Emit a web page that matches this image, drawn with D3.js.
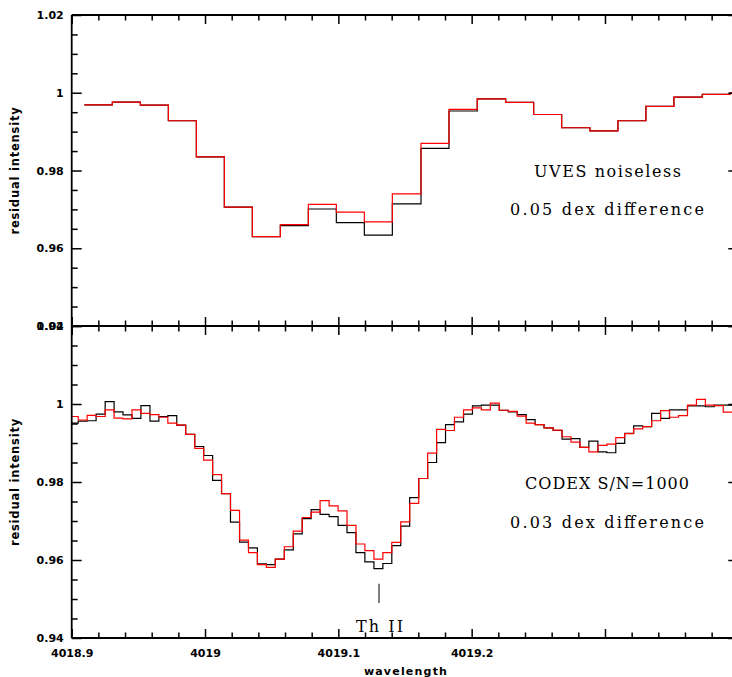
<!DOCTYPE html>
<html>
<head>
<meta charset="utf-8">
<script src="https://cdn.jsdelivr.net/npm/d3@7"></script>
<style>
html,body{margin:0;padding:0;background:#fff;}
svg{display:block;}
</style>
</head>
<body>
<script>
// ---- data ----
const topEdges = [4018.9095,4018.9305,4018.9515,4018.9725,4018.9935,4019.0145,4019.0355,4019.0565,4019.0775,4019.0985,4019.1195,4019.1405,4019.1620,4019.1830,4019.2042,4019.2255,4019.2465,4019.2675,4019.2887,4019.3097,4019.3307,4019.3517,4019.3730,4019.3940,4019.4150];
const topBlack = [0.9969,0.9976,0.9968,0.9928,0.9835,0.9706,0.9630,0.9658,0.9701,0.9666,0.9634,0.9714,0.9857,0.9953,0.9984,0.9975,0.9944,0.9910,0.9902,0.9928,0.9965,0.9989,0.9996,1.0000];
const topRed   = [0.9969,0.9976,0.9968,0.9928,0.9835,0.9706,0.9630,0.9661,0.9713,0.9693,0.9668,0.9740,0.9870,0.9957,0.9984,0.9975,0.9944,0.9910,0.9902,0.9928,0.9965,0.9989,0.9996,1.0000];

const botEdges = [4018.8982,4018.9049,4018.9116,4018.9183,4018.9251,4018.9318,4018.9385,4018.9452,4018.9519,4018.9587,
4018.9654,4018.9721,4018.9788,4018.9855,4018.9923,4018.9990,4019.0057,4019.0124,4019.0191,4019.0259,
4019.0326,4019.0393,4019.0460,4019.0527,4019.0595,4019.0662,4019.0729,4019.0796,4019.0863,4019.0931,
4019.0998,4019.1065,4019.1132,4019.1199,4019.1267,4019.1334,4019.1401,4019.1468,4019.1535,4019.1603,
4019.1670,4019.1737,4019.1804,4019.1871,4019.1939,4019.2006,4019.2073,4019.2140,4019.2207,4019.2275,
4019.2342,4019.2409,4019.2476,4019.2543,4019.2611,4019.2678,4019.2745,4019.2812,4019.2879,4019.2947,
4019.3014,4019.3081,4019.3148,4019.3215,4019.3283,4019.3350,4019.3417,4019.3484,4019.3551,4019.3619,
4019.3686,4019.3753,4019.3820,4019.3887,4019.3954];
const botBlack = [0.9951,0.9956,0.9957,0.9974,1.0006,0.9980,0.9972,0.9963,0.9996,0.9956,
0.9968,0.9970,0.9946,0.9922,0.9891,0.9868,0.9804,0.9770,0.9697,0.9646,
0.9631,0.9590,0.9588,0.9602,0.9626,0.9667,0.9706,0.9729,0.9717,0.9711,
0.9689,0.9670,0.9619,0.9595,0.9578,0.9591,0.9637,0.9687,0.9760,0.9809,
0.9850,0.9901,0.9947,0.9954,0.9974,0.9995,0.9997,0.9997,0.9984,0.9980,
0.9973,0.9960,0.9947,0.9939,0.9932,0.9910,0.9911,0.9889,0.9905,0.9877,
0.9875,0.9899,0.9925,0.9944,0.9942,0.9976,0.9963,0.9985,0.9985,0.9995,
0.9995,0.9993,0.9997,0.9997];
const botRed = [0.9968,0.9959,0.9971,0.9968,0.9985,0.9964,0.9962,0.9985,0.9976,0.9973,
0.9966,0.9951,0.9946,0.9922,0.9886,0.9856,0.9819,0.9770,0.9727,0.9651,
0.9619,0.9588,0.9581,0.9602,0.9634,0.9674,0.9709,0.9723,0.9752,0.9739,
0.9726,0.9689,0.9641,0.9624,0.9602,0.9619,0.9645,0.9698,0.9745,0.9809,
0.9874,0.9935,0.9932,0.9966,0.9985,0.9990,0.9985,1.0002,0.9984,0.9981,
0.9969,0.9951,0.9947,0.9939,0.9933,0.9916,0.9902,0.9889,0.9877,0.9894,
0.9897,0.9914,0.9924,0.9936,0.9942,0.9957,0.9983,0.9966,0.9970,0.9997,
1.0012,0.9997,0.9996,0.9979];

const yMajor = [0.94,0.96,0.98,1,1.02];
const yMinor = [0.945,0.95,0.955,0.965,0.97,0.975,0.985,0.99,0.995,1.005,1.01,1.015];
const xMajor = [4018.9,4019,4019.1,4019.2,4019.3,4019.4];
const xMajorLabels = ["4018.9","4019","4019.1","4019.2","",""];
const xMinor = [4018.92,4018.94,4018.96,4018.98,4019.02,4019.04,4019.06,4019.08,4019.12,4019.14,4019.16,4019.18,4019.22,4019.24,4019.26,4019.28,4019.32,4019.34,4019.36,4019.38];
const thLine = 4019.1305;

// ---- layout ----
const W = 732, H = 677;
const L = 71.7, R = 738.3, T1 = 15, M = 326, B2 = 638;
const x = d3.scaleLinear().domain([4018.9, 4019.4]).range([L, R]);
const yTop = d3.scaleLinear().domain([0.94, 1.02]).range([M, T1]);
const yBot = d3.scaleLinear().domain([0.94, 1.02]).range([B2, M]);

const svg = d3.select("body").append("svg").attr("width", W).attr("height", H)
  .style("background", "#fff");

const defs = svg.append("defs");
defs.append("clipPath").attr("id", "cTop").append("rect")
  .attr("x", L).attr("y", T1).attr("width", R - L).attr("height", M - T1);
defs.append("clipPath").attr("id", "cBot").append("rect")
  .attr("x", L).attr("y", M).attr("width", R - L).attr("height", B2 - M);

function steps(edges, vals) {
  const pts = vals.map((v, i) => ({w: edges[i], v}));
  pts.push({w: edges[vals.length], v: vals[vals.length - 1]});
  return pts;
}
function drawSeries(yS, clip, edges, vals, color) {
  const line = d3.line().x(d => x(d.w)).y(d => yS(d.v)).curve(d3.curveStepAfter);
  svg.append("path").attr("clip-path", `url(#${clip})`)
    .attr("d", line(steps(edges, vals)))
    .attr("fill", "none").attr("stroke", color).attr("stroke-width", 1.2);
}
drawSeries(yTop, "cTop", topEdges, topBlack, "#000");
drawSeries(yTop, "cTop", topEdges, topRed, "#ff0000");
drawSeries(yBot, "cBot", botEdges, botBlack, "#000");
drawSeries(yBot, "cBot", botEdges, botRed, "#ff0000");

// ---- axes ----
const fontLab = "'DejaVu Sans', sans-serif";
function styleAxis(g) {
  g.select(".domain").remove();
  g.selectAll(".tick line").attr("stroke", "#000").attr("stroke-width", 1.5);
  g.selectAll(".tick text").attr("fill", "#000").attr("font-family", fontLab)
    .attr("font-weight", "bold").attr("font-size", 11);
}
function yAxes(yS) {
  svg.append("g").attr("transform", `translate(${L},0)`)
    .call(d3.axisLeft(yS).tickValues(yMajor).tickSize(-10).tickPadding(8).tickFormat(d => String(d)))
    .call(styleAxis);
  svg.append("g").attr("transform", `translate(${L},0)`)
    .call(d3.axisLeft(yS).tickValues(yMinor).tickSize(-6).tickFormat(""))
    .call(styleAxis);
  svg.append("g").attr("transform", `translate(${R},0)`)
    .call(d3.axisRight(yS).tickValues(yMajor).tickSize(-10).tickFormat(""))
    .call(styleAxis);
  svg.append("g").attr("transform", `translate(${R},0)`)
    .call(d3.axisRight(yS).tickValues(yMinor).tickSize(-6).tickFormat(""))
    .call(styleAxis);
}
yAxes(yTop);
yAxes(yBot);

function xAxis(yPos, dirFn, labeled) {
  const g1 = svg.append("g").attr("transform", `translate(0,${yPos})`)
    .call(dirFn(x).tickValues(xMajor).tickSize(-9).tickPadding(11)
      .tickFormat(labeled ? ((d, i) => xMajorLabels[i]) : ""));
  g1.call(styleAxis);
  svg.append("g").attr("transform", `translate(0,${yPos})`)
    .call(dirFn(x).tickValues(xMinor).tickSize(-5.5).tickFormat(""))
    .call(styleAxis);
}
xAxis(T1, d3.axisTop, false);
xAxis(M, d3.axisBottom, false);
xAxis(M, d3.axisTop, false);
xAxis(B2, d3.axisBottom, true);

// frame lines
const frame = svg.append("g").attr("stroke", "#000").attr("stroke-width", 1.8);
frame.append("line").attr("x1", L).attr("x2", L).attr("y1", T1).attr("y2", B2);
frame.append("line").attr("x1", R).attr("x2", R).attr("y1", T1).attr("y2", B2);
[T1, M, B2].forEach(yy => frame.append("line").attr("x1", L).attr("x2", R).attr("y1", yy).attr("y2", yy));

// axis titles
function yTitle(yS) {
  const cy = (yS.range()[0] + yS.range()[1]) / 2;
  svg.append("text").attr("transform", `translate(19,${cy}) rotate(-90)`)
    .attr("text-anchor", "middle").attr("font-family", fontLab).attr("font-weight", "bold")
    .attr("font-size", 11.5).attr("letter-spacing", 0.8).text("residual intensity");
}
yTitle(yTop);
yTitle(yBot);
svg.append("text").attr("x", 406).attr("y", 675).attr("text-anchor", "middle")
  .attr("font-family", fontLab).attr("font-weight", "bold").attr("font-size", 11)
  .attr("letter-spacing", 1.2).text("wavelength");

// annotations
const fontAnn = "'DejaVu Serif', 'Liberation Serif', serif";
function ann(txt, x0, x1, yb) {
  svg.append("text").attr("x", x0).attr("y", yb).attr("font-family", fontAnn)
    .attr("font-size", 16).attr("textLength", x1 - x0).attr("lengthAdjust", "spacing")
    .attr("fill", "#000").text(txt);
}
ann("UVES noiseless", 534, 681, 177);
ann("0.05 dex difference", 510, 704, 215);
ann("CODEX S/N=1000", 525, 689, 489);
ann("0.03 dex difference", 510, 704, 528);
ann("Th II", 356, 403, 632);
svg.append("line").attr("x1", x(thLine)).attr("x2", x(thLine))
  .attr("y1", yBot(0.9539)).attr("y2", yBot(0.9490))
  .attr("stroke", "#555").attr("stroke-width", 1.5);
</script>
</body>
</html>
